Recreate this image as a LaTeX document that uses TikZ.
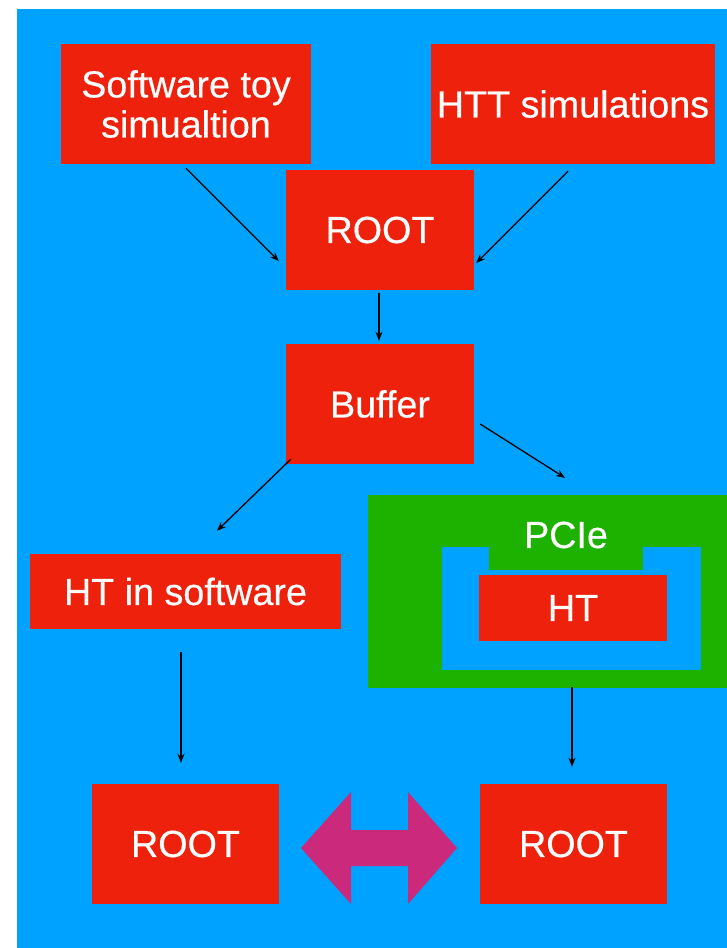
\documentclass[tikz,border=0pt]{standalone}
\usepackage{fontspec}
\setmainfont{Liberation Sans}
\newfontfamily\boxfont{Liberation Sans}[FakeBold=0.4]
\usetikzlibrary{arrows.meta}
\definecolor{bgblue}{HTML}{00A2FF}
\definecolor{boxred}{HTML}{EE220C}
\definecolor{boxgreen}{HTML}{1DB100}
\definecolor{pinkarr}{HTML}{CB297B}
\tikzset{
  lbl/.style={text=white, inner sep=0pt, align=center,
    font=\boxfont\fontsize{37.7}{40}\selectfont},
  box/.style={lbl, fill=boxred},
  arr/.style={draw=black, line width=1.3pt, -{Stealth[length=9pt,width=7pt]}},
}
\begin{document}
\begin{tikzpicture}[x=1pt,y=-1pt]
\useasboundingbox (0,0) rectangle (727,948);
\fill[white] (0,0) rectangle (727,948);
\fill[bgblue] (17,9) rectangle (727,948);
% nodes
\node[box, minimum width=250pt, minimum height=120pt] (sw) at (186,104) {Software toy\\simualtion};
\node[box, minimum width=284pt, minimum height=120pt] (htt) at (573,104) {HTT simulations};
\node[box, minimum width=188pt, minimum height=120pt] (root1) at (380,230) {ROOT};
\node[box, minimum width=188pt, minimum height=120pt] (buf) at (380,404) {Buffer};
\node[box, minimum width=311pt, minimum height=75pt] (htsw) at (185.5,591.5) {HT in software};
\node[fill=boxgreen, inner sep=0pt, minimum width=359pt, minimum height=193pt] (pcie) at (547.5,591.5) {};
\fill[bgblue] (442,547) rectangle (701,670);
\fill[boxgreen] (489,547) rectangle (643,570);
\node[lbl] (pcielbl) at (566,535) {PCIe};
\node[box, minimum width=188pt, minimum height=66pt] (ht) at (573,608) {HT};
\node[box, minimum width=187pt, minimum height=120pt] (rootL) at (185.5,844) {ROOT};
\node[box, minimum width=187pt, minimum height=120pt] (rootR) at (573.5,844) {ROOT};
% double arrow
\fill[pinkarr] (301,848) -- (351,792) -- (351,830) -- (408,830) -- (408,792) -- (457,848)
  -- (408,904) -- (408,866) -- (351,866) -- (351,904) -- cycle;
% connectors
\draw[arr] ([yshift=-4pt]sw.south) -- ([xshift=-7pt,yshift=-31pt]root1.west);
\draw[arr] ([xshift=-5pt,yshift=-7pt]htt.south) -- ([xshift=2pt,yshift=-33pt]root1.east);
\draw[arr] ([xshift=-1pt,yshift=-3pt]root1.south) -- ([xshift=-1pt,yshift=3pt]buf.north);
\draw[arr] ([xshift=5pt,yshift=5pt]buf.south west) -- ([xshift=31.5pt,yshift=23pt]htsw.north);
\draw[arr] ([xshift=6pt,yshift=-20pt]buf.east) -- ([xshift=17.5pt,yshift=17pt]pcie.north);
\draw[arr] ([xshift=-4.5pt,yshift=-23pt]htsw.south) -- ([xshift=-4.5pt,yshift=21pt]rootL.north);
\draw[arr] ([xshift=24.5pt,yshift=1pt]pcie.south) -- ([xshift=-1.5pt,yshift=17pt]rootR.north);
\end{tikzpicture}
\end{document}
